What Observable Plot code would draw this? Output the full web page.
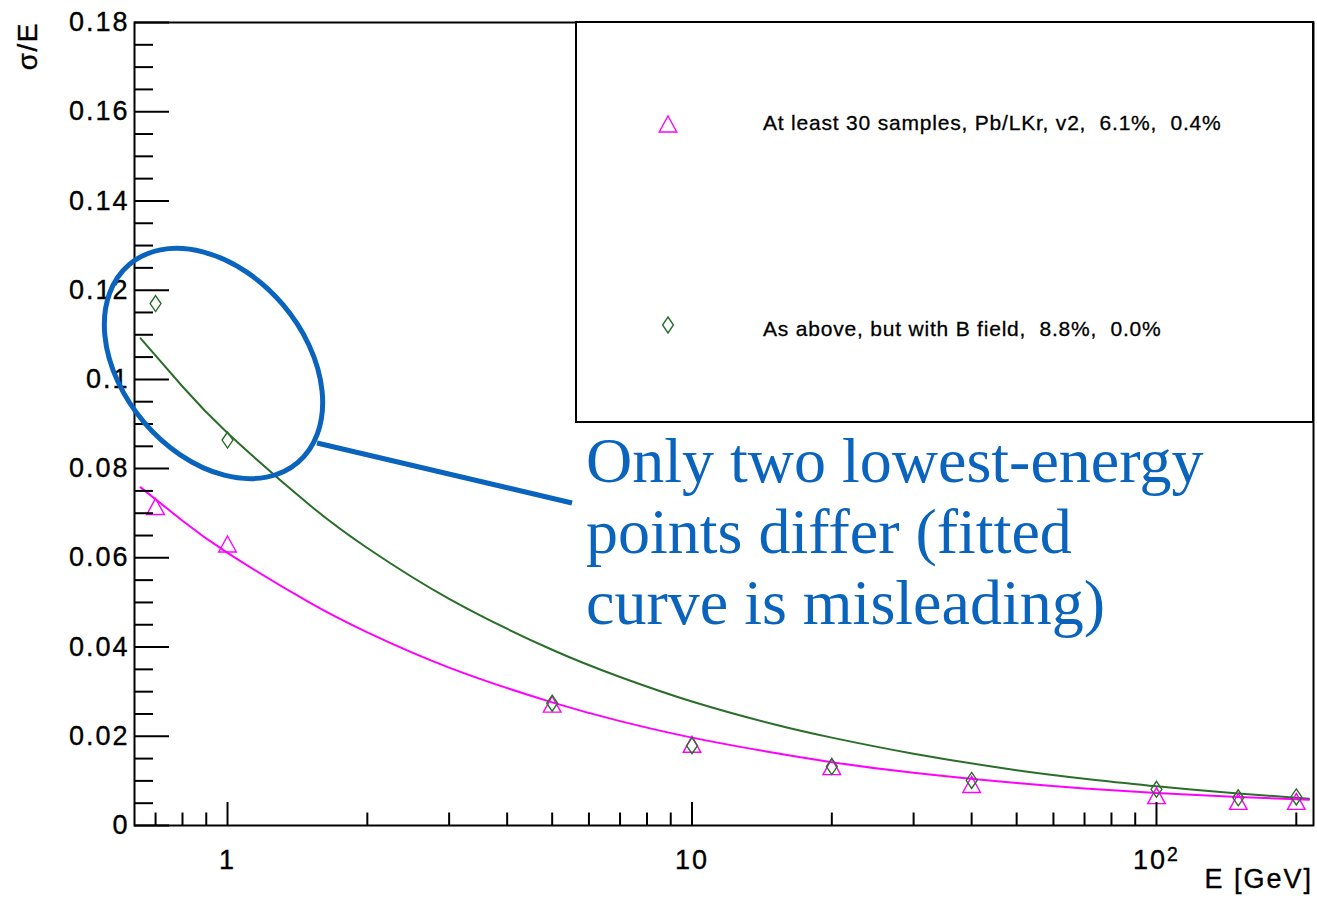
<!DOCTYPE html>
<html>
<head>
<meta charset="utf-8">
<script src="https://cdn.jsdelivr.net/npm/d3@7"></script>
<script src="https://cdn.jsdelivr.net/npm/@observablehq/plot@0.6"></script>
<style>
  html, body { margin: 0; padding: 0; background: white; }
</style>
</head>
<body>
<div id="chart"></div>
<script>
// ---- data ----
const energies = [0.7, 1, 5, 10, 20, 40, 100, 150, 200];
const sigmaPbLKr = [0.0715, 0.0631, 0.0272, 0.0182, 0.0132, 0.0092, 0.0067, 0.0054, 0.0054];
const sigmaBField = [0.1170, 0.0864, 0.0274, 0.0179, 0.0132, 0.0101, 0.0081, 0.0062, 0.0064];

const fitEnergies = [0.65, 0.8, 1, 1.5, 2, 3, 5, 7, 10, 15, 20, 30, 50, 70, 100, 150, 213];
const fitPbLKr = [0.0758, 0.0683, 0.0611, 0.0500, 0.0433, 0.0354, 0.0276, 0.0234, 0.0197, 0.0163, 0.0142, 0.0118, 0.0095, 0.0083, 0.0073, 0.0064, 0.0058];
const fitBField = [0.1092, 0.0984, 0.0880, 0.0719, 0.0622, 0.0508, 0.0394, 0.0333, 0.0278, 0.0227, 0.0197, 0.0161, 0.0124, 0.0105, 0.0088, 0.0072, 0.0060];

const yMajorTicks = [0, 0.02, 0.04, 0.06, 0.08, 0.10, 0.12, 0.14, 0.16, 0.18];
const xMajorTicks = [1, 10, 100];
const xTickLabels = ["1", "10", "10\u00B2"];
const xMinorTicks = [0.7, 0.8, 0.9, 2, 3, 4, 5, 6, 7, 8, 9, 20, 30, 40, 50, 60, 70, 80, 90, 200];

const seriesNames = ["At least 30 samples, Pb/LKr, v2,  6.1%,  0.4%", "As above, but with B field,  8.8%,  0.0%"];
const seriesColors = ["#ff00ff", "#2a6e2a"];
const yTitle = "\u03C3/E";
const xTitle = "E [GeV]";
const noteLines = ["Only two lowest-energy", "points differ (fitted", "curve is misleading)"];
const noteColor = "#0a64bd";

// ---- build tables ----
const pointsA = energies.map((e, i) => ({e, v: sigmaPbLKr[i]}));
const pointsB = energies.map((e, i) => ({e, v: sigmaBField[i]}));
const fitA = fitEnergies.map((e, i) => ({e, v: fitPbLKr[i]}));
const fitB = fitEnergies.map((e, i) => ({e, v: fitBField[i]}));
const yMinorTicks = d3.range(1, 36).map(k => +(k * 0.005).toFixed(3)).filter(t => !yMajorTicks.some(m => Math.abs(m - t) < 1e-9));

const W = 1317, H = 899;
const mL = 134, mR = 4, mT = 22, mB = 74;
const frameW = W - mL - mR, frameH = H - mT - mB;

const triangleSym = {draw(ctx, size) {
  const s = Math.sqrt(size / Math.PI);
  ctx.moveTo(0, -s); ctx.lineTo(1.1 * s, s); ctx.lineTo(-1.1 * s, s); ctx.closePath();
}};
const diamondSym = {draw(ctx, size) {
  const s = Math.sqrt(size / Math.PI);
  ctx.moveTo(0, -s); ctx.lineTo(0.68 * s, 0); ctx.lineTo(0, s); ctx.lineTo(-0.68 * s, 0); ctx.closePath();
}};

const plot = Plot.plot({
  width: W, height: H,
  marginLeft: mL, marginRight: mR, marginTop: mT, marginBottom: mB,
  x: {type: "log", domain: [0.6306, 217.8], label: null},
  y: {domain: [0, 0.18], label: null},
  style: {fontFamily: "'Liberation Sans', Arial, Helvetica, sans-serif", fontSize: "27px", letterSpacing: "2px", background: "white", color: "black", overflow: "visible"},
  marks: [
    Plot.line(fitB, {x: "e", y: "v", stroke: seriesColors[1], strokeWidth: 2, curve: "natural"}),
    Plot.line(fitA, {x: "e", y: "v", stroke: seriesColors[0], strokeWidth: 2, curve: "natural"}),
    Plot.dot(pointsA, {x: "e", y: "v", symbol: triangleSym, r: 8, stroke: seriesColors[0], strokeWidth: 1.4, fill: "none"}),
    Plot.dot(pointsB, {x: "e", y: "v", symbol: diamondSym, r: 8, stroke: seriesColors[1], strokeWidth: 1.4, fill: "none"}),
    Plot.ruleY(yMinorTicks, {y: d => d, insetRight: frameW - 19, stroke: "black", strokeWidth: 2}),
    Plot.ruleY(yMajorTicks, {y: d => d, insetRight: frameW - 35, stroke: "black", strokeWidth: 2}),
    Plot.ruleX(xMinorTicks, {x: d => d, insetTop: frameH - 12.5, stroke: "black", strokeWidth: 2}),
    Plot.ruleX(xMajorTicks, {x: d => d, insetTop: frameH - 23, stroke: "black", strokeWidth: 2}),
    Plot.axisY({ticks: yMajorTicks, tickSize: 0, tickPadding: 5, tickFormat: d => String(+d.toFixed(2)), label: null}),
    Plot.axisX({ticks: xMajorTicks, tickSize: 0, tickPadding: 24, tickFormat: d => xTickLabels[xMajorTicks.indexOf(d)], label: null}),
    Plot.frame({stroke: "black", strokeWidth: 2})
  ]
});

document.getElementById("chart").appendChild(plot);

// ---- overlays: axis titles, legend, annotation ----
const svg = d3.select(plot);

// thicker ROOT-like text and a real superscript for 10^2
svg.selectAll("text").each(function () {
  const t = d3.select(this);
  t.style("stroke", "black").style("stroke-width", "0.35px");
  if (this.textContent === "10\u00B2") {
    t.text("10");
    t.append("tspan").attr("dy", "-0.42em").style("font-size", "72%").text("2");
  }
});

svg.append("text")
  .attr("transform", "translate(37,22) rotate(-90)")
  .attr("text-anchor", "end")
  .style("font-size", "28px").style("letter-spacing", "1.5px")
  .style("stroke", "black").style("stroke-width", "0.35px")
  .text(yTitle);

svg.append("text")
  .attr("x", 1313).attr("y", 888)
  .attr("text-anchor", "end")
  .style("font-size", "27px").style("letter-spacing", "2px")
  .style("stroke", "black").style("stroke-width", "0.35px")
  .text(xTitle);

const leg = svg.append("g");
leg.append("rect")
  .attr("x", 576).attr("y", 22).attr("width", 737).attr("height", 400)
  .attr("fill", "white").attr("stroke", "black").attr("stroke-width", 2);
const legSyms = [triangleSym, diamondSym];
const legY = [124, 325];
const textY = [130, 336];
seriesNames.forEach((name, i) => {
  leg.append("path")
    .attr("d", d3.symbol(legSyms[i], 64 * Math.PI)())
    .attr("transform", `translate(668,${legY[i]})`)
    .attr("fill", "none").attr("stroke", seriesColors[i]).attr("stroke-width", 1.4);
  leg.append("text")
    .attr("x", 763).attr("y", textY[i])
    .attr("text-anchor", "start")
    .style("font-size", "21px").style("letter-spacing", "0.8px").style("white-space", "pre")
    .style("stroke", "black").style("stroke-width", "0.3px")
    .text(name);
});

const note = svg.append("g");
note.append("ellipse")
  .attr("cx", 213.5).attr("cy", 363.5).attr("rx", 130).attr("ry", 91)
  .attr("transform", "rotate(49.5,213.5,363.5)")
  .attr("fill", "none").attr("stroke", noteColor).attr("stroke-width", 5);
note.append("line")
  .attr("x1", 317).attr("y1", 443).attr("x2", 572).attr("y2", 503)
  .attr("stroke", noteColor).attr("stroke-width", 5);
noteLines.forEach((line, i) => {
  note.append("text")
    .attr("x", 586).attr("y", 482 + i * 71)
    .attr("text-anchor", "start")
    .style("font-family", "'Liberation Serif', 'Times New Roman', serif")
    .style("font-size", "64px").style("letter-spacing", "0px")
    .attr("fill", noteColor)
    .text(line);
});
</script>
</body>
</html>
